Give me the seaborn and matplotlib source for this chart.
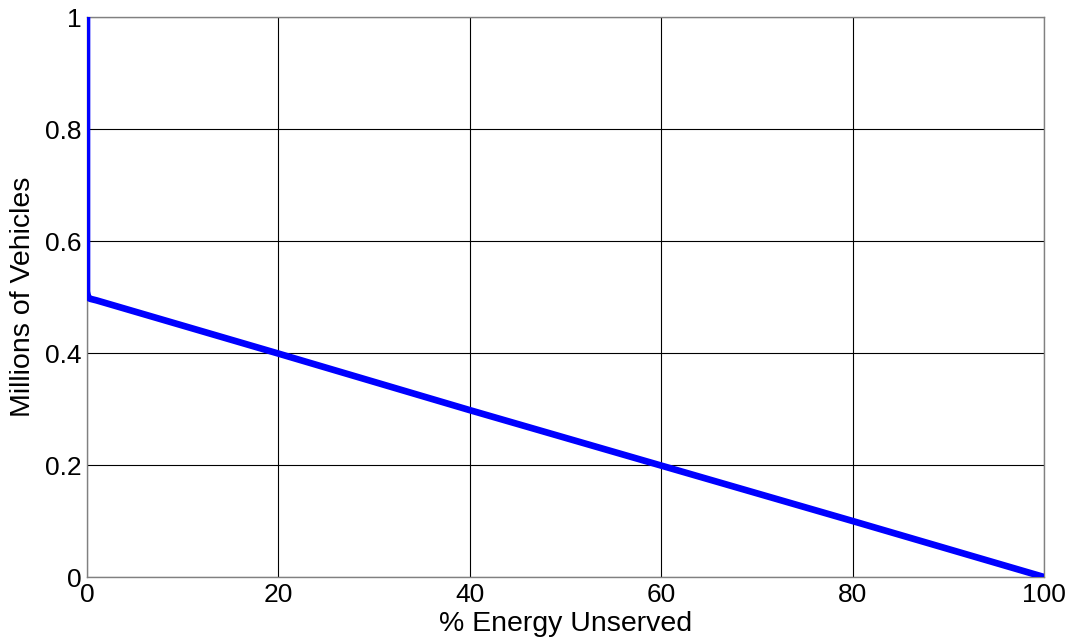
import matplotlib
matplotlib.use("Agg")
import matplotlib.pyplot as plt
import seaborn as sns
import pandas as pd

energy_unserved = [0, 0, 0.1, 0.3, 1, 20, 40, 60, 80, 100]
vehicles_millions = [1.0, 0.51, 0.5, 0.497, 0.494, 0.399, 0.298, 0.199, 0.1, 0.0]
x_ticks = [0, 20, 40, 60, 80, 100]
y_ticks = [0, 0.2, 0.4, 0.6, 0.8, 1]
y_tick_labels = ["0", "0.2", "0.4", "0.6", "0.8", "1"]

sns.set_style("white")
plt.rcParams['font.family'] = ['Liberation Sans', 'DejaVu Sans']
plt.rcParams['text.color'] = 'black'
plt.rcParams['axes.labelcolor'] = 'black'
plt.rcParams['xtick.color'] = 'black'
plt.rcParams['ytick.color'] = 'black'

df = pd.DataFrame({"x": energy_unserved, "y": vehicles_millions})

fig = plt.figure(figsize=(10.7, 6.4), dpi=100)
ax = fig.add_axes([0.0813, 0.0984, 0.8944, 0.875])
sns.lineplot(data=df, x="x", y="y", ax=ax, color="#0000ff", linewidth=4.8,
             sort=False, estimator=None, zorder=3)
ax.set_xlim(0, 100)
ax.set_ylim(0, 1)
ax.set_xticks(x_ticks)
ax.set_yticks(y_ticks)
ax.set_yticklabels(y_tick_labels)
ax.grid(True, color="black", linewidth=0.8)
for s in ax.spines.values():
    s.set_color("#808080")
    s.set_linewidth(1.0)
ax.tick_params(axis="both", labelsize=19, length=0, pad=4)
ax.set_xlabel("% Energy Unserved", fontsize=20.5, labelpad=3)
ax.set_ylabel("Millions of Vehicles", fontsize=20.5, labelpad=6)
fig.savefig("out.png", dpi=100)
